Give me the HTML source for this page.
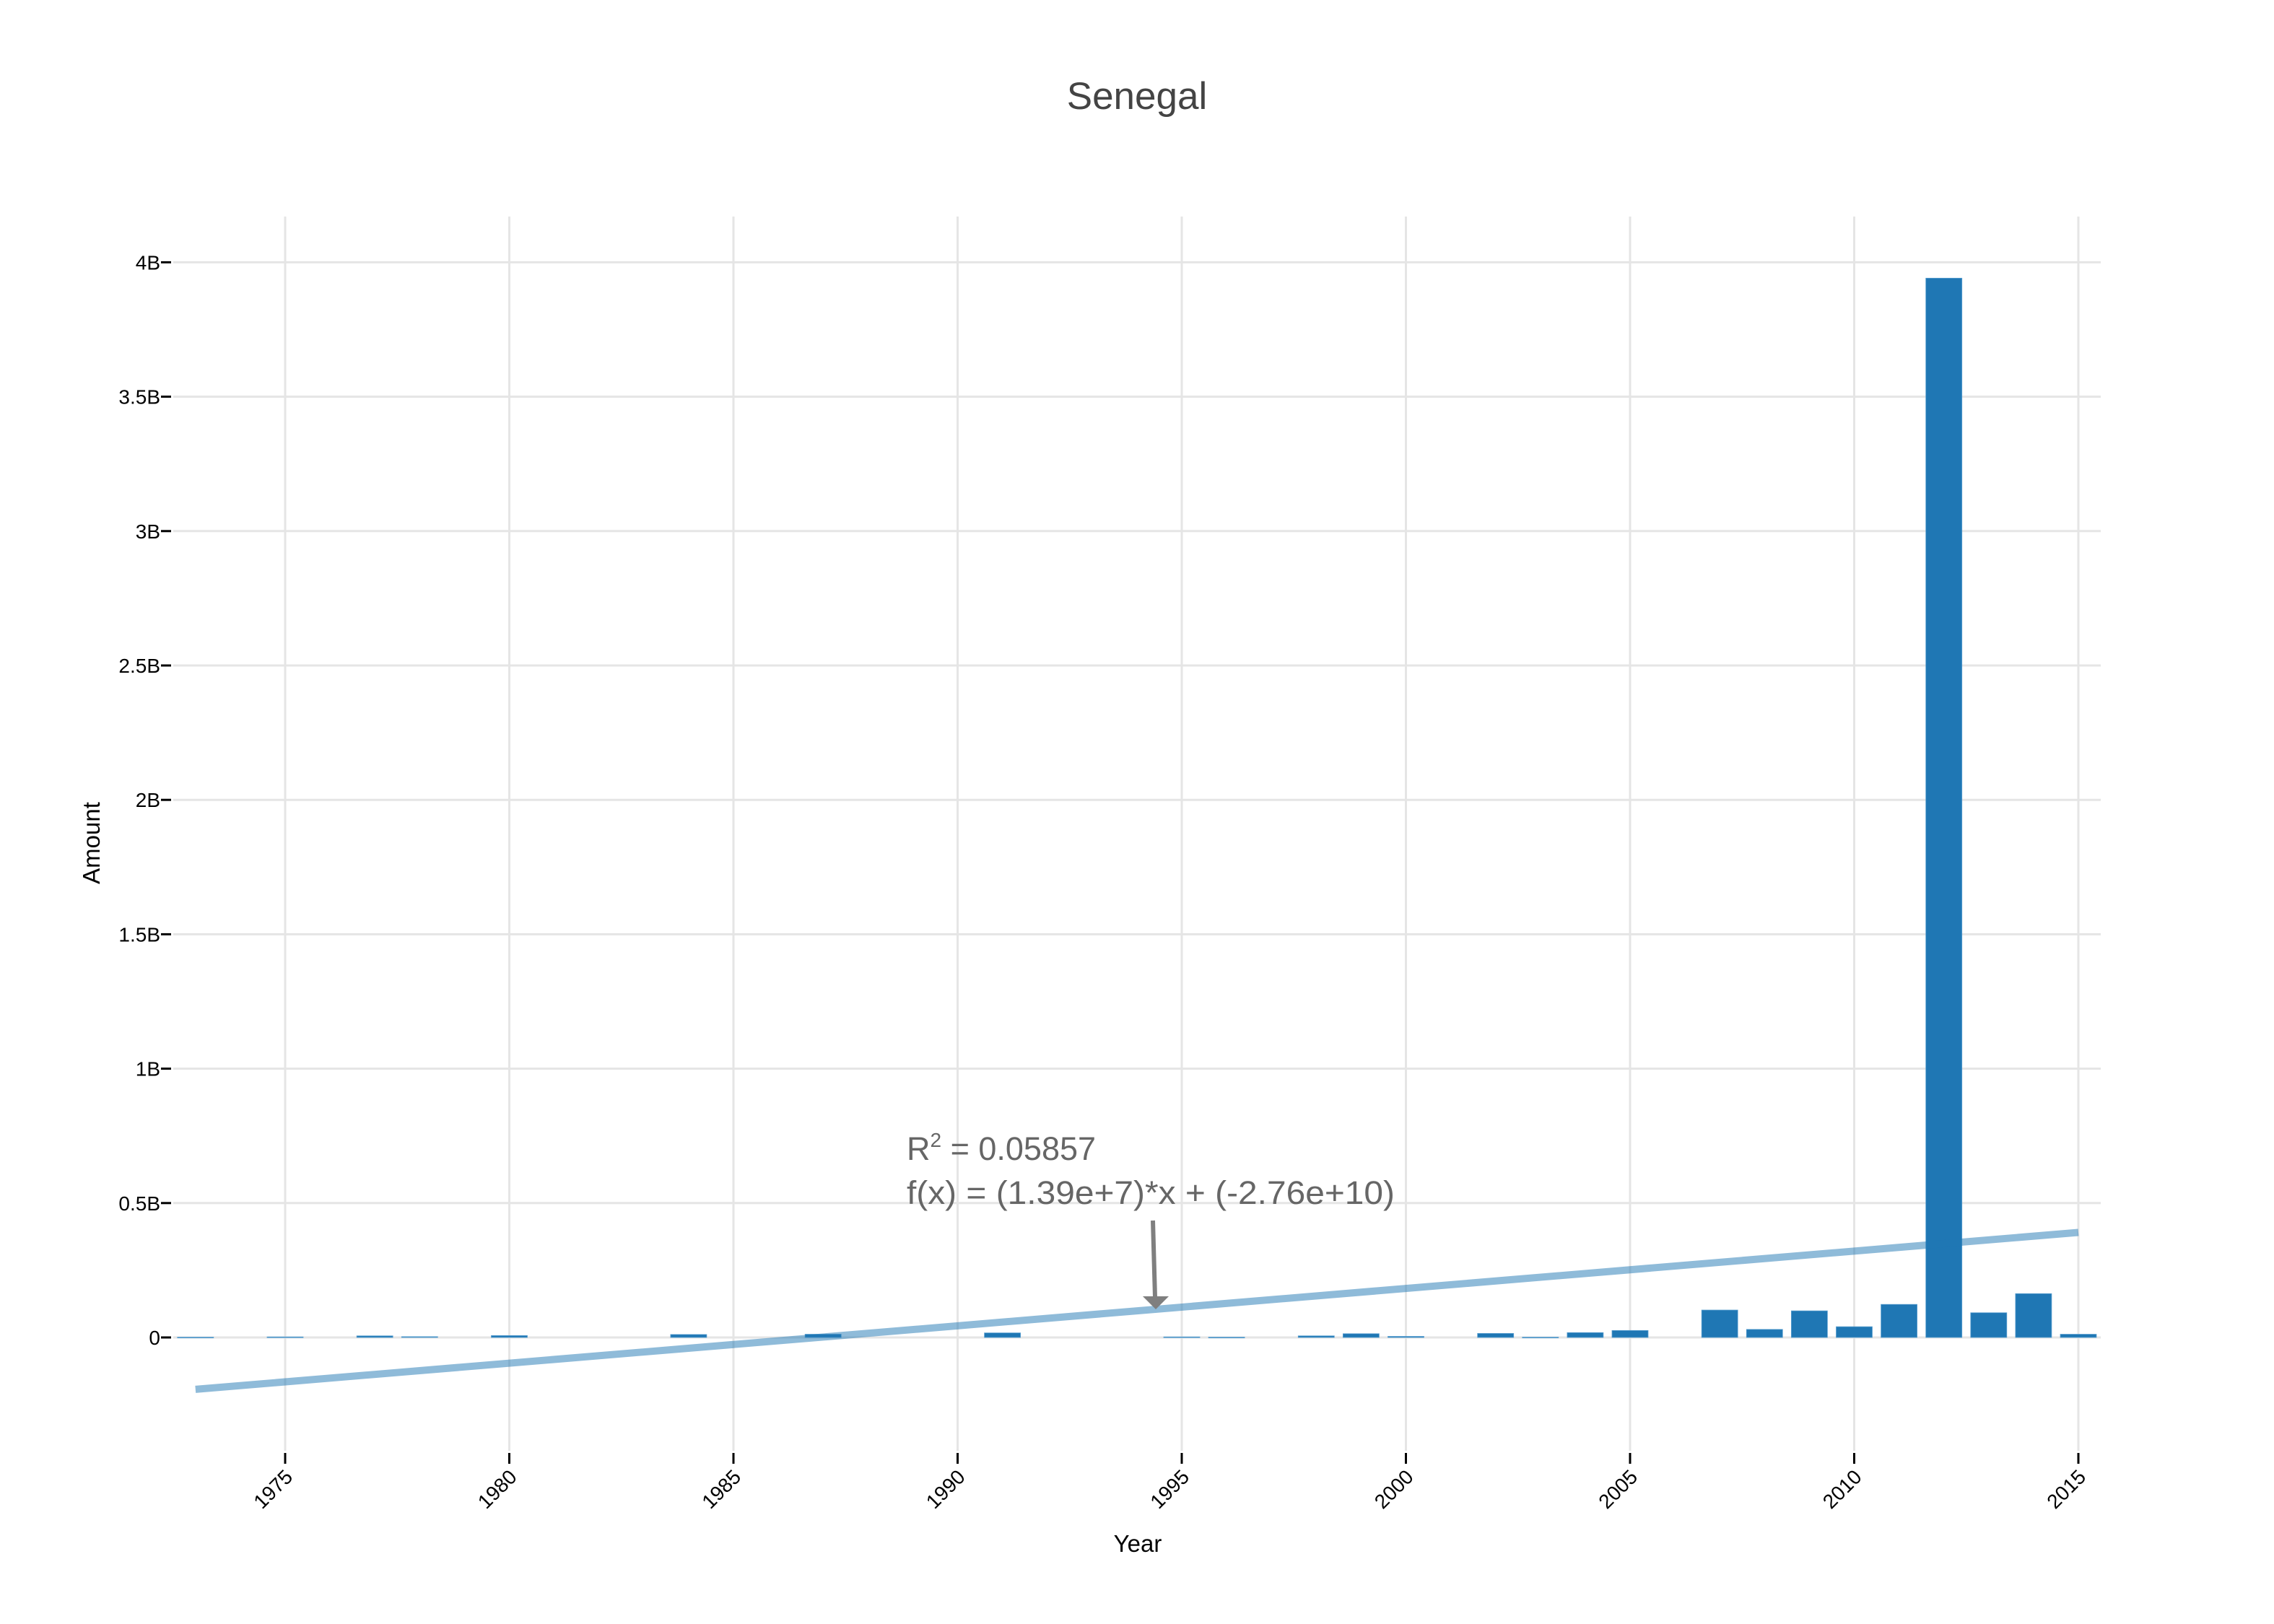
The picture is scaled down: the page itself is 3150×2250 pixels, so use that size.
<!DOCTYPE html>
<html><head><meta charset="utf-8"><style>
html,body{margin:0;padding:0;background:#fff;}
svg{display:block;font-family:"Liberation Sans",sans-serif;}
</style></head><body>
<svg id="chart" width="3150" height="2250" viewBox="0 0 3150 2250" xmlns="http://www.w3.org/2000/svg">
<rect width="3150" height="2250" fill="#fff"/>
<g id="grid"></g>
<g id="bars"></g>
<g id="trend"></g>
<g id="axes"></g>
<text x="1575" y="151" text-anchor="middle" font-size="53" fill="#444">Senegal</text>
<text x="1576" y="2150" text-anchor="middle" font-size="33" fill="#000">Year</text>
<text transform="translate(138,1168) rotate(-90)" text-anchor="middle" font-size="33" fill="#000">Amount</text>
<g fill="#666" font-size="45">
<text x="1256" y="1607">R<tspan dy="-18" font-size="28">2</tspan><tspan dy="18"> = 0.05857</tspan></text>
<text x="1256" y="1668" textLength="676" lengthAdjust="spacingAndGlyphs">f(x) = (1.39e+7)*x + (-2.76e+10)</text>
<line x1="1597" y1="1691" x2="1600" y2="1797" stroke="#7f7f7f" stroke-width="6"/>
<polygon points="1583,1796 1619,1796 1601,1814" fill="#7f7f7f"/>
</g>
</svg>
<script>
const years = [1973,1975,1977,1978,1980,1984,1987,1991,1995,1996,1998,1999,2000,2002,2003,2004,2005,2007,2008,2009,2010,2011,2012,2013,2014,2015];
const amountsB = [0.001,0.002,0.006,0.003,0.007,0.011,0.012,0.017,0.002,0.001,0.006,0.014,0.004,0.015,0.001,0.018,0.026,0.102,0.030,0.099,0.040,0.123,3.941,0.092,0.163,0.012];
const xTicks = [1975,1980,1985,1990,1995,2000,2005,2010,2015];
const yTicks = [0,0.5,1,1.5,2,2.5,3,3.5,4];
const yTickLabels = ["0","0.5B","1B","1.5B","2B","2.5B","3B","3.5B","4B"];
const trendYears = [1973,2015];
const trendSlopeB = 0.0139;
const trendInterceptB = -0.193; // value at 1973

const NS="http://www.w3.org/2000/svg";
const L=240,R=2910,T=300,B=2010;
const xs=y=>395+(y-1975)*62.1;
const ys=v=>1853-v*372.4;
function mk(tag,attrs,parent){const e=document.createElementNS(NS,tag);for(const k in attrs)e.setAttribute(k,attrs[k]);parent.appendChild(e);return e;}
const grid=document.getElementById('grid'),bars=document.getElementById('bars'),trend=document.getElementById('trend'),axes=document.getElementById('axes');

yTicks.forEach((v,i)=>{
  const y=ys(v);
  const g=mk('line',{x1:L,x2:R,y1:y,y2:y,stroke:'#e5e5e5','stroke-width':3},grid);
  
  
  const tk=mk('line',{x1:223,x2:237,y1:y,y2:y,stroke:'#000','stroke-width':3},axes);
  
  
  const t=mk('text',{x:222,y:y+10,'text-anchor':'end','font-size':28,fill:'#000'},axes);
  t.textContent=yTickLabels[i];
  
  
});
xTicks.forEach(yr=>{
  const x=xs(yr);
  const g=mk('line',{x1:x,x2:x,y1:T,y2:B,stroke:'#e5e5e5','stroke-width':3},grid);
  
  
  const tk=mk('line',{x1:x,x2:x,y1:2013,y2:2028,stroke:'#000','stroke-width':3},axes);
  
  
  const t=mk('text',{transform:`translate(${x+12},2048) rotate(-45)`,'text-anchor':'end','font-size':28,fill:'#000'},axes);
  t.textContent=String(yr);
  
  
});
years.forEach((yr,i)=>{
  const x=xs(yr)-25,y0=ys(0),y1=ys(amountsB[i]);
  const r=mk('rect',{x:x,y:Math.min(y0,y1),width:50,height:Math.max(1,Math.abs(y0-y1)),fill:'#1f77b4',stroke:'#5a9fd0','stroke-width':0.8},bars);
  
  
});
const tv=trendYears.map(yr=>trendInterceptB+trendSlopeB*(yr-1973));
const tl=mk('line',{x1:xs(trendYears[0]),y1:ys(tv[0]),x2:xs(trendYears[1]),y2:ys(tv[1]),stroke:'rgba(31,119,180,0.5)','stroke-width':10},trend);


</script>
</body></html>
